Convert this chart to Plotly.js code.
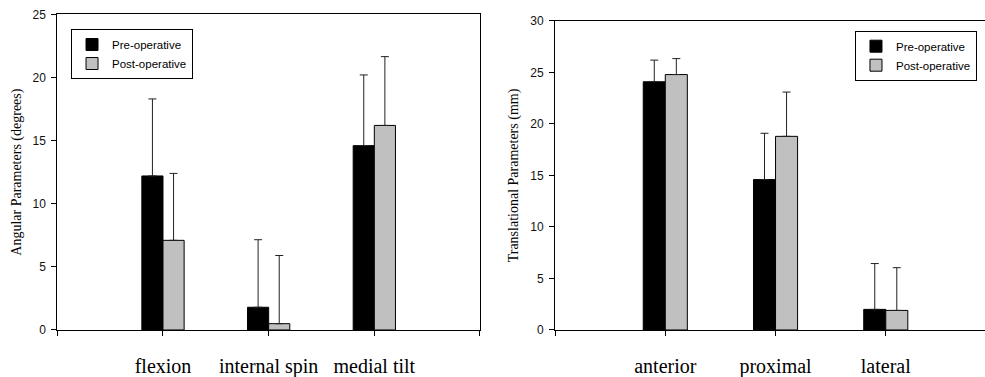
<!DOCTYPE html>
<html>
<head>
<meta charset="utf-8">
<script src="https://cdn.plot.ly/plotly-3.0.1.min.js"></script>
<style>html,body{margin:0;padding:0;background:#fff}#chart{width:985px;height:377px}</style>
</head>
<body>
<div id="chart"></div>
<script>
// ---- data ----
const angularCategories = ['flexion', 'internal spin', 'medial tilt'];
const angularPre = [12.2, 1.8, 14.6];
const angularPreErr = [6.1, 5.35, 5.6];
const angularPost = [7.1, 0.5, 16.2];
const angularPostErr = [5.3, 5.4, 5.45];

const translationalCategories = ['anterior', 'proximal', 'lateral'];
const translationalPre = [24.1, 14.6, 2.0];
const translationalPreErr = [2.1, 4.5, 4.45];
const translationalPost = [24.8, 18.8, 1.9];
const translationalPostErr = [1.55, 4.3, 4.15];

const seriesNames = ['Pre-operative', 'Post-operative'];

// ---- build ----
const pos = arr => arr.map((_, i) => i + 1);
const zeros = arr => arr.map(() => 0);

function barTrace(cats, vals, errs, name, color, xa, ya, legend, show) {
  return {
    type: 'bar', x: pos(cats), y: vals, name: name,
    xaxis: xa, yaxis: ya, legend: legend, showlegend: show,
    marker: {color: color, line: {color: '#000', width: 1}},
    error_y: {type: 'data', symmetric: false, array: errs, arrayminus: zeros(errs),
              visible: true, color: '#222', thickness: 1, width: 4},
    hoverinfo: 'skip'
  };
}

const data = [
  barTrace(angularCategories, angularPre, angularPreErr, seriesNames[0], '#000000', 'x', 'y', 'legend', true),
  barTrace(angularCategories, angularPost, angularPostErr, seriesNames[1], '#c0c0c0', 'x', 'y', 'legend', true),
  barTrace(translationalCategories, translationalPre, translationalPreErr, seriesNames[0], '#000000', 'x2', 'y2', 'legend2', true),
  barTrace(translationalCategories, translationalPost, translationalPostErr, seriesNames[1], '#c0c0c0', 'x2', 'y2', 'legend2', true)
];

const tickFont = {family: 'Liberation Sans, Arial, sans-serif', size: 12, color: '#111'};
const catFont = {family: 'Liberation Serif, Times New Roman, serif', size: 20, color: '#000'};
const titleFont = {family: 'Liberation Serif, Times New Roman, serif', size: 14, color: '#000'};

function xAxis(cats, domain, range, anchor) {
  const vals = [0].concat(pos(cats)).concat([cats.length + 1]);
  const txt = [''].concat(cats).concat(['']);
  return {
    domain: domain, range: range, anchor: anchor,
    tickmode: 'array', tickvals: vals, ticktext: txt,
    ticks: 'outside', ticklen: 5, tickwidth: 1, tickcolor: '#000',
    showline: true, linecolor: '#000', linewidth: 1, mirror: true,
    showgrid: false, zeroline: false, tickfont: catFont, ticklabelstandoff: 13,
    fixedrange: true
  };
}
function yAxis(domain, range, anchor, title, standoff) {
  return {
    domain: domain, range: range, anchor: anchor, dtick: 5, tick0: 0,
    ticks: 'outside', ticklen: 5, tickwidth: 1, tickcolor: '#000',
    showline: true, linecolor: '#000', linewidth: 1, mirror: true,
    showgrid: false, zeroline: false, tickfont: tickFont, ticklabelstandoff: 3,
    title: {text: title, font: titleFont, standoff: standoff},
    fixedrange: true
  };
}

const legendStyle = {
  bgcolor: '#fff', bordercolor: '#000', borderwidth: 1,
  font: {family: 'Liberation Sans, Arial, sans-serif', size: 11.5, color: '#000'},
  xanchor: 'left', yanchor: 'top', tracegroupgap: 0, itemwidth: 30
};

const layout = {
  width: 985, height: 377,
  margin: {l: 0, r: 0, t: 0, b: 0},
  paper_bgcolor: '#fff', plot_bgcolor: '#fff',
  barmode: 'group', bargap: 0.6, bargroupgap: 0,
  showlegend: true,
  xaxis: xAxis(angularCategories, [0.0582, 0.4873], [0, 4], 'y'),
  yaxis: yAxis([0.1247, 0.962], [0, 25], 'x', 'Angular Parameters (degrees)', 7),
  xaxis2: xAxis(translationalCategories, [0.5635, 1], [0, 3.9], 'y2'),
  yaxis2: yAxis([0.1247, 0.9443], [0, 30], 'x2', 'Translational Parameters (mm)', 8),
  legend: Object.assign({x: 0.0721, y: 0.923}, legendStyle),
  legend2: Object.assign({x: 0.868, y: 0.9186}, legendStyle)
};

Plotly.newPlot('chart', data, layout, {displayModeBar: false, staticPlot: true});
</script>
</body>
</html>
